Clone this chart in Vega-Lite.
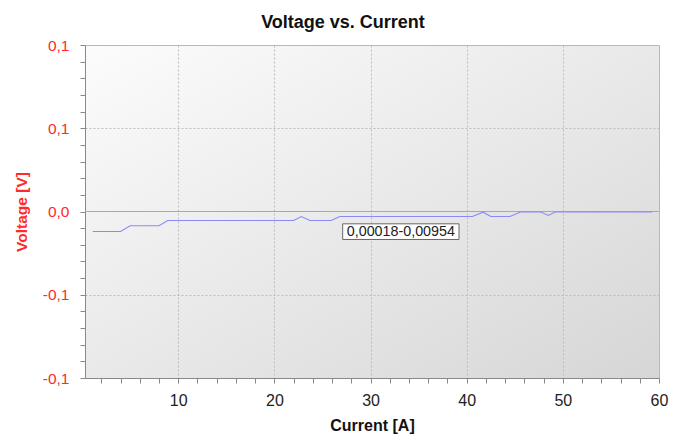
{
  "$schema": "https://vega.github.io/schema/vega-lite/v6.json",
  "width": 574,
  "height": 333,
  "autosize": {"type": "none"},
  "padding": {"left": 85, "top": 45, "right": 24, "bottom": 57},
  "background": "white",
  "config": {
    "locale": {"number": {"decimal": ",", "thousands": ".", "grouping": [3], "currency": ["", " €"], "minus": "-"}},
    "font": "Liberation Sans",
    "view": {
      "fill": {"gradient": "linear", "x1": 0, "y1": 0, "x2": 1, "y2": 1, "stops": [{"offset": 0, "color": "#fcfcfc"}, {"offset": 1, "color": "#d6d6d6"}]},
      "stroke": "#b8b8b8"
    }
  },
  "title": {"text": "Voltage vs. Current", "fontSize": 18, "fontWeight": "bold", "color": "#111", "anchor": "middle", "dx": -29, "offset": 6},
  "datasets": {
    "line": [
      {"current": 1.1, "voltage": -0.012},
      {"current": 4.0, "voltage": -0.012},
      {"current": 5.0, "voltage": -0.0086},
      {"current": 8.0, "voltage": -0.0086},
      {"current": 8.9, "voltage": -0.0054},
      {"current": 22.0, "voltage": -0.0054},
      {"current": 22.8, "voltage": -0.003},
      {"current": 23.7, "voltage": -0.0054},
      {"current": 25.9, "voltage": -0.0054},
      {"current": 26.8, "voltage": -0.003},
      {"current": 40.6, "voltage": -0.003},
      {"current": 41.7, "voltage": -0.0004},
      {"current": 42.5, "voltage": -0.003},
      {"current": 44.5, "voltage": -0.003},
      {"current": 45.6, "voltage": -0.0003},
      {"current": 47.7, "voltage": -0.0003},
      {"current": 48.5, "voltage": -0.0024},
      {"current": 49.2, "voltage": -0.0003},
      {"current": 59.3, "voltage": -0.0003}
    ],
    "note": [
      {"x0": 27.1, "x1": 39.2, "y0": -0.0074, "y1": -0.0168, "xc": 33.15, "yc": -0.0121, "label": "0,00018-0,00954"}
    ]
  },
  "layer": [
    {
      "data": {"values": [{"v": 0}]},
      "mark": {"type": "rule", "color": "#a8a8a8", "strokeWidth": 1},
      "encoding": {
        "y": {"field": "v", "type": "quantitative"}
      }
    },
    {
      "data": {"name": "line"},
      "mark": {"type": "line", "color": "#8a8af2", "strokeWidth": 1.1, "clip": true},
      "encoding": {
        "x": {
          "field": "current", "type": "quantitative",
          "scale": {"domain": [0.3, 60], "nice": false, "zero": false},
          "axis": {
            "title": "Current [A]",
            "titleFontSize": 16, "titleFontWeight": "bold", "titleColor": "#111", "titlePadding": 9,
            "values": [2, 4, 6, 8, 10, 12, 14, 16, 18, 20, 22, 24, 26, 28, 30, 32, 34, 36, 38, 40, 42, 44, 46, 48, 50, 52, 54, 56, 58, 60],
            "tickCount": 200,
            "labelOverlap": false,
            "format": "d",
            "labelExpr": "datum.value % 10 === 0 ? datum.label : ''",
            "labelFontSize": 16, "labelColor": "#222", "labelPadding": 9, "labelFlush": false,
            "tickSize": 5, "tickColor": "#888", "domainColor": "#888",
            "grid": true, "gridColor": "#bdbdbd", "gridDash": [2, 2],
            "gridOpacity": {"condition": {"test": "datum.value % 10 === 0 && datum.value < 60", "value": 1}, "value": 0}
          }
        },
        "y": {
          "field": "voltage", "type": "quantitative",
          "scale": {"domain": [-0.1, 0.1], "nice": false},
          "axis": {
            "title": "Voltage [V]",
            "titleFontSize": 15.5, "titleFontWeight": "bold", "titleColor": "#ff2a2a", "titlePadding": 13,
            "values": [-0.1, -0.09, -0.08, -0.07, -0.06, -0.05, -0.04, -0.03, -0.02, -0.01, 0, 0.01, 0.02, 0.03, 0.04, 0.05, 0.06, 0.07, 0.08, 0.09, 0.1],
            "tickCount": 200,
            "labelOverlap": false,
            "format": ".1f",
            "labelExpr": "abs(round(datum.value * 100)) % 5 === 0 ? datum.label : ''",
            "labelFontSize": 15.5, "labelColor": "#ff2a2a", "labelPadding": 11, "labelFlush": false,
            "tickSize": 5, "tickColor": "#888", "domainColor": "#888",
            "grid": true, "gridColor": "#bdbdbd", "gridDash": [2, 2],
            "gridOpacity": {"condition": {"test": "abs(round(datum.value * 100)) === 5", "value": 1}, "value": 0}
          }
        }
      }
    },
    {
      "data": {"name": "note"},
      "mark": {"type": "rect", "fill": "white", "stroke": "#666", "strokeWidth": 1},
      "encoding": {
        "x": {"field": "x0", "type": "quantitative"},
        "x2": {"field": "x1"},
        "y": {"field": "y0", "type": "quantitative"},
        "y2": {"field": "y1"}
      }
    },
    {
      "data": {"name": "note"},
      "mark": {"type": "text", "fontSize": 14.3, "color": "#222", "align": "center", "baseline": "middle"},
      "encoding": {
        "x": {"field": "xc", "type": "quantitative"},
        "y": {"field": "yc", "type": "quantitative"},
        "text": {"field": "label"}
      }
    }
  ]
}
